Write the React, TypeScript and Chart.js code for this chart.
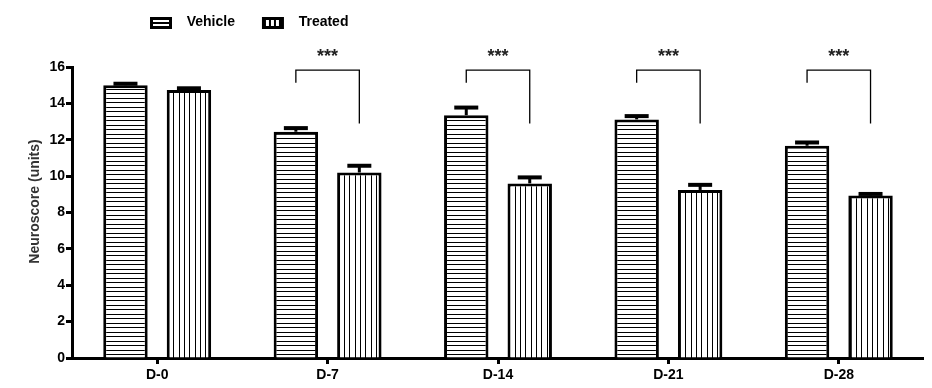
import React, { useEffect, useRef } from "react";
import { Chart, registerables } from "chart.js";

Chart.register(...registerables);

const categories = ["D-0", "D-7", "D-14", "D-21", "D-28"];
const seriesNames = ["Vehicle", "Treated"];
const vehicleValues = [15.0, 12.44, 13.35, 13.12, 11.67];
const vehicleErrors = [0.08, 0.2, 0.42, 0.18, 0.18];
const treatedValues = [14.73, 10.2, 9.6, 9.24, 8.94];
const treatedErrors = [0.1, 0.37, 0.33, 0.28, 0.08];
const sigLabels = ["", "***", "***", "***", "***"];
const bracketTop = [null, 15.83, 15.83, 15.83, 15.83];
const bracketLeftEnd = [null, 15.14, 15.14, 15.14, 15.14];
const bracketRightEnd = [null, 12.9, 12.9, 12.9, 12.9];
const yMin = 0;
const yMax = 16;
const yStep = 2;
const yAxisTitle = "Neuroscore (units)";

const FONT = "'Liberation Sans', Arial, Helvetica, sans-serif";

function makeHPattern(ctx: CanvasRenderingContext2D) {
  const c = document.createElement("canvas");
  c.width = 8;
  c.height = 9;
  const g = c.getContext("2d")!;
  g.fillStyle = "#fff";
  g.fillRect(0, 0, 8, 9);
  g.fillStyle = "#000";
  g.fillRect(0, 0, 8, 1);
  g.fillRect(0, 4, 8, 1);
  return ctx.createPattern(c, "repeat")!;
}

function makeVPattern(ctx: CanvasRenderingContext2D) {
  const c = document.createElement("canvas");
  c.width = 16;
  c.height = 8;
  const g = c.getContext("2d")!;
  g.fillStyle = "#fff";
  g.fillRect(0, 0, 16, 8);
  g.fillStyle = "#000";
  g.fillRect(0, 0, 1, 8);
  g.fillRect(5, 0, 1, 8);
  g.fillRect(11, 0, 1, 8);
  return ctx.createPattern(c, "repeat")!;
}

const errorBarPlugin = {
  id: "errorBars",
  afterDatasetsDraw(chart: any) {
    const ctx = chart.ctx;
    const yScale = chart.scales.y;
    chart.data.datasets.forEach((ds: any, i: number) => {
      const meta = chart.getDatasetMeta(i);
      meta.data.forEach((bar: any, j: number) => {
        const v = ds.data[j];
        const e = ds.errors[j];
        const yTop = yScale.getPixelForValue(v + e);
        ctx.save();
        ctx.strokeStyle = "#000";
        ctx.lineWidth = 3;
        ctx.beginPath();
        ctx.moveTo(bar.x, bar.y);
        ctx.lineTo(bar.x, yTop);
        ctx.stroke();
        ctx.lineWidth = 4;
        ctx.beginPath();
        ctx.moveTo(bar.x - 12, yTop);
        ctx.lineTo(bar.x + 12, yTop);
        ctx.stroke();
        ctx.restore();
      });
    });
  },
};

const bracketPlugin = {
  id: "brackets",
  afterDatasetsDraw(chart: any) {
    const ctx = chart.ctx;
    const yScale = chart.scales.y;
    const m0 = chart.getDatasetMeta(0);
    const m1 = chart.getDatasetMeta(1);
    categories.forEach((_, j) => {
      if (bracketTop[j] == null) return;
      const xL = m0.data[j].x;
      const xR = m1.data[j].x;
      const yT = yScale.getPixelForValue(bracketTop[j] as number);
      const yL = yScale.getPixelForValue(bracketLeftEnd[j] as number);
      const yR = yScale.getPixelForValue(bracketRightEnd[j] as number);
      ctx.save();
      ctx.strokeStyle = "#000";
      ctx.lineWidth = 1.3;
      ctx.beginPath();
      ctx.moveTo(xL, yL);
      ctx.lineTo(xL, yT);
      ctx.lineTo(xR, yT);
      ctx.lineTo(xR, yR);
      ctx.stroke();
      ctx.fillStyle = "#222";
      ctx.font = `bold 18px ${FONT}`;
      ctx.textAlign = "center";
      ctx.textBaseline = "alphabetic";
      ctx.fillText(sigLabels[j], (xL + xR) / 2, yT - 8);
      ctx.restore();
    });
  },
};

const legendAndTitlePlugin = {
  id: "customLegend",
  afterDraw(chart: any) {
    const ctx = chart.ctx;
    ctx.save();
    // y-axis title
    ctx.translate(27, 193.5);
    ctx.rotate(-Math.PI / 2);
    ctx.fillStyle = "#333";
    ctx.font = `bold 14px ${FONT}`;
    ctx.textAlign = "center";
    ctx.textBaseline = "middle";
    ctx.fillText(yAxisTitle, 0, 0);
    ctx.restore();

    // legend
    ctx.save();
    let x = 142;
    const y = 9;
    ctx.font = `bold 14px ${FONT}`;
    ctx.textBaseline = "middle";
    ctx.textAlign = "left";
    chart.data.datasets.forEach((ds: any, i: number) => {
      ctx.fillStyle = "#000";
      ctx.fillRect(x, y, 22, 12);
      ctx.fillStyle = "#fff";
      if (i === 0) {
        ctx.fillRect(x + 3, y + 3, 16, 2);
        ctx.fillRect(x + 3, y + 7, 16, 2);
      } else {
        ctx.fillRect(x + 4, y + 3, 3, 6);
        ctx.fillRect(x + 9, y + 3, 3, 6);
        ctx.fillRect(x + 14, y + 3, 3, 6);
      }
      const tx = x + 22 + 14.7;
      ctx.fillStyle = "#000";
      ctx.fillText(ds.label, tx, y + 5.5);
      x = tx + ctx.measureText(ds.label).width + 27;
    });
    ctx.restore();
  },
};

export default function App() {
  const ref = useRef<HTMLCanvasElement | null>(null);
  useEffect(() => {
    const canvas = ref.current!;
    const ctx = canvas.getContext("2d")!;
    const chart = new Chart(ctx, {
      type: "bar",
      data: {
        labels: categories,
        datasets: [
          {
            label: seriesNames[0],
            data: vehicleValues,
            errors: vehicleErrors,
            backgroundColor: makeHPattern(ctx),
            borderColor: "#000",
            borderWidth: 3,
            borderSkipped: "bottom",
            categoryPercentage: 0.745,
            barPercentage: 0.7,
          } as any,
          {
            label: seriesNames[1],
            data: treatedValues,
            errors: treatedErrors,
            backgroundColor: makeVPattern(ctx),
            borderColor: "#000",
            borderWidth: 3,
            borderSkipped: "bottom",
            categoryPercentage: 0.745,
            barPercentage: 0.7,
          } as any,
        ],
      },
      options: {
        responsive: false,
        animation: false,
        devicePixelRatio: 1,
        layout: { padding: { top: 59, left: 0, right: 0, bottom: 0 } },
        plugins: {
          legend: { display: false },
          tooltip: { enabled: false },
        },
        scales: {
          x: {
            type: "category",
            afterFit: (s: any) => {
              s.height = 22;
            },
            border: { display: true, color: "#000", width: 3 },
            grid: {
              display: true,
              drawOnChartArea: false,
              drawTicks: true,
              offset: false,
              tickLength: 6,
              tickWidth: 3,
              tickColor: "#000",
            },
            ticks: {
              color: "#000",
              padding: 3,
              font: { family: FONT, size: 14, weight: "bold" },
            },
          },
          y: {
            min: yMin,
            max: yMax,
            afterFit: (s: any) => {
              s.width = 64;
            },
            border: { display: true, color: "#000", width: 3 },
            grid: {
              display: true,
              drawOnChartArea: false,
              drawTicks: true,
              tickLength: 6,
              tickWidth: 3,
              tickColor: "#000",
            },
            ticks: {
              stepSize: yStep,
              color: "#000",
              padding: 1,
              font: { family: FONT, size: 14, weight: "bold" },
            },
          },
        },
      } as any,
      plugins: [errorBarPlugin, bracketPlugin, legendAndTitlePlugin],
    });
    return () => chart.destroy();
  }, []);
  return (
    <div style={{ width: 916, height: 372 }}>
      <canvas ref={ref} width={916} height={372} style={{ display: "block" }} />
    </div>
  );
}
